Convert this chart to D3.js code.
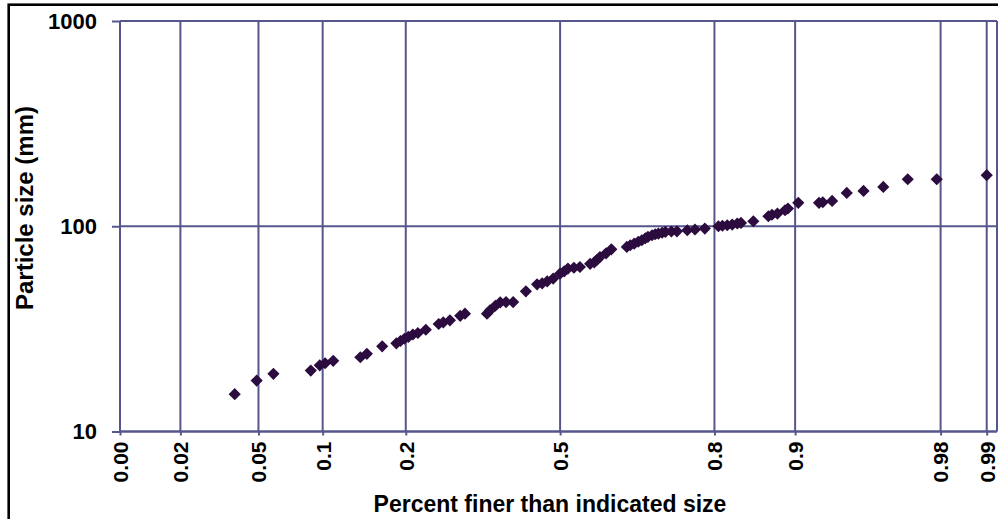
<!DOCTYPE html>
<html>
<head>
<meta charset="utf-8">
<script src="https://cdn.jsdelivr.net/npm/d3@7"></script>
<style>
  html, body { margin: 0; padding: 0; background: #ffffff; }
  svg { display: block; }
  text { font-family: "Liberation Sans", Arial, sans-serif; font-weight: bold; fill: #000; }
</style>
</head>
<body>
<svg id="chart" width="998" height="519"></svg>
<script>
// ---- data ----
const percentFiner = [0.038,0.049,0.059,0.087,0.095,0.100,0.108,0.138,0.146,0.166,
  0.186,0.192,0.198,0.204,0.211,0.219,0.232,0.254,0.262,0.274,
  0.293,0.302,0.345,0.351,0.362,0.372,0.384,0.399,0.426,0.450,
  0.461,0.472,0.485,0.500,0.509,0.517,0.530,0.543,0.565,0.574,
  0.580,0.586,0.599,0.610,0.642,0.649,0.657,0.665,0.672,0.679,
  0.684,0.692,0.698,0.704,0.711,0.717,0.728,0.738,0.756,0.769,
  0.785,0.806,0.812,0.819,0.826,0.833,0.838,0.854,0.872,0.876,
  0.882,0.890,0.893,0.903,0.921,0.924,0.931,0.941,0.951,0.961,
  0.971,0.980,0.990];
const particleSize = [15.2,17.7,19.1,19.8,21.0,21.5,22.1,23.0,23.9,26.0,
  26.9,27.6,28.3,28.9,29.7,30.2,31.3,33.4,34.0,34.8,
  36.6,37.5,37.5,38.9,41.0,42.6,42.7,42.7,48.2,52.1,
  52.7,53.9,55.6,58.8,60.3,62.2,62.8,63.3,65.6,66.7,
  68.7,70.8,73.8,77.2,79.3,80.8,82.3,84.0,85.5,87.4,
  88.7,90.4,91.4,92.1,93.0,93.8,94.3,94.5,95.6,96.4,
  97.4,100,100.6,101.1,101.9,103.1,103.8,105.8,111.9,113.8,
  115.3,119.7,122.0,130.0,130.0,130.9,132.9,145.4,148.6,155.5,
  169.5,169.5,177.4];
const xTickValues = [0.0082, 0.0192, 0.05, 0.0977, 0.2, 0.5, 0.8, 0.9, 0.981, 0.99];
const xTickLabels = ["0.00","0.02","0.05","0.1","0.2","0.5","0.8","0.9","0.98","0.99"];
const yTickValues = [10, 100, 1000];
const yTickLabels = ["10", "100", "1000"];
const xDomainP = [0.0082, 0.9914];
const yDomain = [10, 1000];
const xTitle = "Percent finer than indicated size";
const yTitle = "Particle size (mm)";

// ---- inverse normal CDF (probability scale) ----
function probit(p) {
  const a=[-3.969683028665376e+01,2.209460984245205e+02,-2.759285104469687e+02,1.383577518672690e+02,-3.066479806614716e+01,2.506628277459239e+00];
  const b=[-5.447609879822406e+01,1.615858368580409e+02,-1.556989798598866e+02,6.680131188771972e+01,-1.328068155288572e+01];
  const c=[-7.784894002430293e-03,-3.223964580411365e-01,-2.400758277161838e+00,-2.549732539343734e+00,4.374664141464968e+00,2.938163982698783e+00];
  const d=[7.784695709041462e-03,3.224671290700398e-01,2.445134137142996e+00,3.754408661907416e+00];
  const pl = 0.02425, ph = 1 - pl;
  if (p < pl) { const q = Math.sqrt(-2*Math.log(p)); return (((((c[0]*q+c[1])*q+c[2])*q+c[3])*q+c[4])*q+c[5])/((((d[0]*q+d[1])*q+d[2])*q+d[3])*q+1); }
  if (p <= ph) { const q = p - 0.5, r = q*q; return (((((a[0]*r+a[1])*r+a[2])*r+a[3])*r+a[4])*r+a[5])*q/(((((b[0]*r+b[1])*r+b[2])*r+b[3])*r+b[4])*r+1); }
  const q = Math.sqrt(-2*Math.log(1-p)); return -(((((c[0]*q+c[1])*q+c[2])*q+c[3])*q+c[4])*q+c[5])/((((d[0]*q+d[1])*q+d[2])*q+d[3])*q+1);
}

// ---- layout ----
const plot = { left: 120, right: 997, top: 21, bottom: 431.5 };
const gridColor = "#56568c";
const markColor = "#2c0b3f";

const svg = d3.select("#chart");

// outer border
svg.append("rect").attr("x", 8.7).attr("y", 4.7).attr("width", 1100).attr("height", 600)
  .attr("fill", "none").attr("stroke", "#000").attr("stroke-width", 2.6);

const z = d3.scaleLinear().domain(xDomainP.map(probit)).range([plot.left, plot.right]);
const y = d3.scaleLog().domain(yDomain).range([plot.bottom, plot.top]);

// gridlines
const grid = svg.append("g");
grid.selectAll("line.v").data(xTickValues).enter().append("line")
  .attr("x1", d => z(probit(d))).attr("x2", d => z(probit(d)))
  .attr("y1", plot.top).attr("y2", plot.bottom)
  .attr("stroke", gridColor).attr("stroke-width", 2);
grid.selectAll("line.h").data(yTickValues).enter().append("line")
  .attr("x1", plot.left).attr("x2", plot.right)
  .attr("y1", d => y(d)).attr("y2", d => y(d))
  .attr("stroke", gridColor).attr("stroke-width", 2);
// right plot edge
grid.append("line").attr("x1", plot.right).attr("x2", plot.right)
  .attr("y1", plot.top).attr("y2", plot.bottom)
  .attr("stroke", gridColor).attr("stroke-width", 2);

// y axis
const yAxis = svg.append("g").attr("transform", `translate(${plot.left},0)`)
  .call(d3.axisLeft(y).tickValues(yTickValues).tickSize(8).tickPadding(15)
        .tickFormat((d, i) => yTickLabels[i]));
yAxis.selectAll("path, line").attr("stroke", gridColor).attr("stroke-width", 2);
yAxis.select("path.domain").attr("d", `M0,${plot.top}V${plot.bottom}`);
yAxis.selectAll("text").style("font-size", "22px").attr("fill", "#000")
  .style("font-family", '"Liberation Sans", Arial, sans-serif').style("font-weight", "bold");

// x axis
const xAxis = svg.append("g").attr("transform", `translate(0,${plot.bottom})`)
  .call(d3.axisBottom(z).tickValues(xTickValues.map(probit)).tickSize(4)
        .tickFormat((d, i) => xTickLabels[i]));
xAxis.selectAll("path, line").attr("stroke", gridColor).attr("stroke-width", 2);
xAxis.select("path.domain").attr("d", `M${plot.left},0H${plot.right}`);
xAxis.selectAll("text")
  .attr("transform", "rotate(-90)")
  .attr("x", -10).attr("y", 0).attr("dy", "0.35em")
  .style("text-anchor", "end")
  .style("font-size", "21px").attr("fill", "#000")
  .style("font-family", '"Liberation Sans", Arial, sans-serif').style("font-weight", "bold");

// titles
svg.append("text").attr("x", 550).attr("y", 511.5).attr("text-anchor", "middle")
  .style("font-size", "23px").text(xTitle);
svg.append("text").attr("transform", "translate(33,208) rotate(-90)").attr("text-anchor", "middle")
  .style("font-size", "24px").text(yTitle);

// markers
const pts = percentFiner.map((p, i) => ({ p, s: particleSize[i] }));
const diamond = d3.symbol().type(d3.symbolSquare).size(74);
svg.append("g").selectAll("path").data(pts).enter().append("path")
  .attr("d", diamond)
  .attr("transform", d => `translate(${z(probit(d.p))},${y(d.s)}) rotate(45)`)
  .attr("fill", markColor);
</script>
</body>
</html>
